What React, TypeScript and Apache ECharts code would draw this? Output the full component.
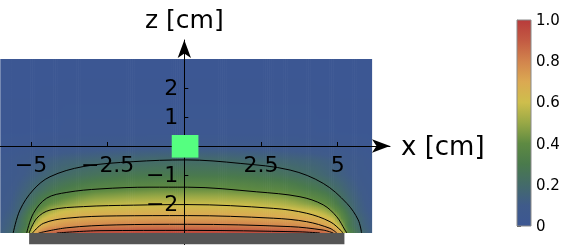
import React, { useEffect, useRef } from "react";
import * as echarts from "echarts";

// ---------- tick labels ----------
const xTickValues = [-5, -2.5, 2.5, 5];
const zTickValues = [-2, -1, 1, 2];
const colorTickValues = [0, 0.2, 0.4, 0.6, 0.8, 1.0];

// ---------- ranges ----------
const fieldXRange = [-6, 6.1];
const fieldZRange = [-3, 3];
const xAxisRange = [-6, 6.706];
const zAxisRange = [-3.4, 3.655];

// ---------- DarkRainbow-like colour scheme (value → colour) ----------
const colorStopValues = [0, 0.1, 0.2, 0.3, 0.4, 0.5, 0.6, 0.7, 0.8, 0.9, 1];
const colorStopHex = ["#3C5793", "#3F5B8A", "#446B6A", "#4A7A4C", "#5E8A42", "#98A846", "#CEBE4C", "#DBA952", "#D2844D", "#C35B43", "#B83B3B"];

// ---------- field samples ----------
const fieldCenterX = 0.1;
const fieldDx = [0, 1, 2, 3, 3.5, 4, 4.25, 4.5, 4.75, 5, 5.25, 5.5, 5.75, 6.1];
const fieldZ = [3, 0.5, 0, -0.5, -1, -1.5, -2, -2.25, -2.5, -2.75, -3];
const rowZp30 = [0, 0, 0, 0, 0, 0, 0, 0, 0, 0, 0, 0, 0, 0];
const rowZp05 = [0.02, 0.02, 0.02, 0.02, 0.02, 0.02, 0.015, 0.015, 0.015, 0.01, 0.01, 0.01, 0.01, 0.01];
const rowZ000 = [0.08, 0.08, 0.075, 0.07, 0.065, 0.06, 0.055, 0.05, 0.045, 0.04, 0.035, 0.03, 0.025, 0.02];
const rowZm05 = [0.205, 0.2, 0.185, 0.17, 0.16, 0.15, 0.14, 0.13, 0.12, 0.11, 0.09, 0.08, 0.06, 0.05];
const rowZm10 = [0.29, 0.29, 0.28, 0.25, 0.23, 0.205, 0.19, 0.17, 0.15, 0.13, 0.11, 0.09, 0.07, 0.06];
const rowZm15 = [0.42, 0.42, 0.4, 0.38, 0.35, 0.31, 0.29, 0.26, 0.22, 0.19, 0.15, 0.12, 0.09, 0.07];
const rowZm20 = [0.59, 0.59, 0.58, 0.55, 0.52, 0.47, 0.44, 0.41, 0.35, 0.27, 0.2, 0.15, 0.11, 0.08];
const rowZm225 = [0.66, 0.66, 0.65, 0.64, 0.63, 0.6, 0.57, 0.52, 0.44, 0.36, 0.25, 0.16, 0.12, 0.09];
const rowZm25 = [0.73, 0.73, 0.72, 0.71, 0.7, 0.68, 0.67, 0.64, 0.58, 0.42, 0.3, 0.2, 0.14, 0.1];
const rowZm275 = [0.82, 0.82, 0.81, 0.79, 0.78, 0.76, 0.74, 0.72, 0.67, 0.55, 0.3, 0.22, 0.15, 0.11];
const rowZm30 = [0.96, 0.96, 0.95, 0.94, 0.93, 0.91, 0.9, 0.86, 0.81, 0.69, 0.37, 0.26, 0.18, 0.12];
const fieldRows = [rowZp30, rowZp05, rowZ000, rowZm05, rowZm10, rowZm15, rowZm20, rowZm225, rowZm25, rowZm275, rowZm30];

// ---------- contour lines (x, z) ----------
const contour02 = [[-5.58, -3], [-5.36, -2.21], [-4.93, -1.52], [-4.38, -1.06], [-3.3, -0.71], [-1.67, -0.54], [0.05, -0.48], [1.82, -0.6], [3.45, -0.83], [4.53, -1.29], [5.3, -1.98], [5.67, -2.55], [5.78, -3]];
const contour04 = [[-5.14, -3], [-4.92, -2.32], [-4.49, -1.8], [-3.83, -1.6], [-2.75, -1.48], [-1.12, -1.42], [0.1, -1.42], [2.36, -1.58], [3.77, -1.75], [4.53, -2.03], [4.97, -2.44], [5.24, -2.9], [5.3, -3]];
const contour06 = [[-5.06, -3], [-4.81, -2.49], [-4.38, -2.21], [-3.29, -2.09], [-1.66, -2.04], [0.1, -2.02], [2.9, -2.15], [3.99, -2.32], [4.75, -2.61], [5.13, -2.94], [5.16, -3]];
const contour07 = [[-4.95, -3], [-4.6, -2.67], [-3.83, -2.49], [-2.2, -2.41], [0.1, -2.4], [2.9, -2.49], [3.99, -2.61], [4.75, -2.84], [4.97, -3]];
const contour08 = [[-4.75, -3], [-3.83, -2.82], [-2.2, -2.72], [0.1, -2.7], [3.45, -2.78], [4.53, -2.9], [4.86, -3]];
const contour09 = [[-4.16, -3], [-2.75, -2.92], [0.1, -2.91], [3.77, -2.96], [4.42, -3]];
const contours = [contour02, contour04, contour06, contour07, contour08, contour09];

// ---------- objects ----------
const sensorBox = [-0.41, -0.4, 0.46, 0.38]; // x0, z0, x1, z1
const magnetBox = [-5.06, -3.39, 5.22, -3.0];

const FONT = "DejaVu Sans";

// plot frame in pixels
const PLOT_LEFT = 0.3;
const PLOT_RIGHT = 390;
const PLOT_TOP = 40;
const PLOT_BOTTOM = 244.6;

function hexToRgb(h: string) {
  return [parseInt(h.slice(1, 3), 16), parseInt(h.slice(3, 5), 16), parseInt(h.slice(5, 7), 16)];
}
const stopRgb = colorStopHex.map(hexToRgb);

function colorAt(v: number) {
  const x = Math.max(0, Math.min(1, v));
  let i = 0;
  while (i < colorStopValues.length - 2 && x > colorStopValues[i + 1]) i++;
  const t = (x - colorStopValues[i]) / (colorStopValues[i + 1] - colorStopValues[i]);
  const a = stopRgb[i], b = stopRgb[i + 1];
  const r = Math.round(a[0] + (b[0] - a[0]) * t);
  const g = Math.round(a[1] + (b[1] - a[1]) * t);
  const bl = Math.round(a[2] + (b[2] - a[2]) * t);
  return `rgb(${r},${g},${bl})`;
}

function clampX(x: number) {
  return Math.max(fieldXRange[0], Math.min(fieldXRange[1], x));
}

const fieldCols: { x: number; idx: number }[] = [];
for (let i = fieldDx.length - 1; i >= 1; i--) fieldCols.push({ x: clampX(fieldCenterX - fieldDx[i]), idx: i });
for (let i = 0; i < fieldDx.length; i++) fieldCols.push({ x: clampX(fieldCenterX + fieldDx[i]), idx: i });
const fieldCells: number[][] = [];
for (let k = 0; k < fieldCols.length - 1; k++) {
  fieldCells.push([fieldCols[k].x, fieldCols[k + 1].x, fieldCols[k].idx, fieldCols[k + 1].idx]);
}

function fmt(v: number) {
  return String(v).replace("-", "\u2212");
}

export default function App() {
  const ref = useRef<HTMLDivElement>(null);
  useEffect(() => {
    if (!ref.current) return;
    const chart = echarts.init(ref.current, undefined, { renderer: "svg" });

    const fieldRender = (params: any, api: any) => {
      const xa = api.value(0), xb = api.value(1), ia = api.value(2), ib = api.value(3);
      const pTop = api.coord([xa, fieldZRange[1]]);
      const pBot = api.coord([xb, fieldZRange[0]]);
      const x0 = pTop[0], x1 = pBot[0], y0 = pTop[1], y1 = pBot[1];
      const n = Math.max(1, Math.round((x1 - x0) / 2));
      const w = (x1 - x0) / n;
      const span = fieldZRange[1] - fieldZRange[0];
      const children: any[] = [];
      for (let s = 0; s < n; s++) {
        const t = (s + 0.5) / n;
        const col = fieldRows.map((r) => r[ia] * (1 - t) + r[ib] * t);
        const stops: any[] = [];
        for (let k = 0; k < fieldZ.length - 1; k++) {
          const za = fieldZ[k], zb = fieldZ[k + 1];
          const m = Math.max(1, Math.ceil((za - zb) / 0.05));
          for (let j = 0; j < m; j++) {
            const u = j / m;
            const z = za + (zb - za) * u;
            stops.push({ offset: (fieldZRange[1] - z) / span, color: colorAt(col[k] + (col[k + 1] - col[k]) * u) });
          }
        }
        stops.push({ offset: 1, color: colorAt(col[col.length - 1]) });
        children.push({
          type: "rect",
          shape: { x: x0 + s * w, y: y0, width: w + 0.7, height: y1 - y0 },
          style: { fill: { type: "linear", x: 0, y: 0, x2: 0, y2: 1, colorStops: stops } },
        });
      }
      return { type: "group", children };
    };

    const boxRender = (color: string) => (params: any, api: any) => {
      const p0 = api.coord([api.value(0), api.value(3)]);
      const p1 = api.coord([api.value(2), api.value(1)]);
      return {
        type: "rect",
        shape: { x: p0[0], y: p0[1], width: p1[0] - p0[0], height: p1[1] - p0[1] },
        style: { fill: color },
      };
    };

    const colorbarRender = (params: any, api: any) => {
      const p0 = api.coord([api.value(0), api.value(3)]);
      const p1 = api.coord([api.value(2), api.value(1)]);
      const stops = colorStopHex
        .map((c, i) => ({ offset: 1 - colorStopValues[i], color: c }))
        .reverse();
      return {
        type: "rect",
        shape: { x: p0[0], y: p0[1], width: p1[0] - p0[0], height: p1[1] - p0[1] },
        style: { fill: { type: "linear", x: 0, y: 0, x2: 0, y2: 1, colorStops: stops }, stroke: "#8a8a8a", lineWidth: 1 },
      };
    };

    const zeroX = PLOT_LEFT + ((0 - xAxisRange[0]) / (xAxisRange[1] - xAxisRange[0])) * (PLOT_RIGHT - PLOT_LEFT);
    const zeroZ = PLOT_TOP + ((zAxisRange[1] - 0) / (zAxisRange[1] - zAxisRange[0])) * (PLOT_BOTTOM - PLOT_TOP);

    const arrowLine = { show: true, onZero: false, symbol: ["none", "arrow"], symbolSize: [10, 18], lineStyle: { color: "#000", width: 1 } };
    const labelStyle = { fontSize: 22, color: "#000", fontFamily: FONT, formatter: fmt };

    const option: any = {
      animation: false,
      grid: [
        { left: PLOT_LEFT, top: PLOT_TOP, width: PLOT_RIGHT - PLOT_LEFT, height: PLOT_BOTTOM - PLOT_TOP, outerBoundsMode: "none", containLabel: false },
        { left: PLOT_LEFT, top: PLOT_TOP, width: PLOT_RIGHT - PLOT_LEFT, height: zeroZ - PLOT_TOP, outerBoundsMode: "none", containLabel: false },
        { left: zeroX, top: PLOT_TOP, width: PLOT_RIGHT - zeroX, height: PLOT_BOTTOM - PLOT_TOP, outerBoundsMode: "none", containLabel: false },
        { left: 517, top: 20, width: 14, height: 206, outerBoundsMode: "none", containLabel: false },
      ],
      xAxis: [
        { gridIndex: 0, type: "value", min: xAxisRange[0], max: xAxisRange[1], show: false },
        {
          gridIndex: 1,
          type: "value",
          position: "bottom",
          min: xAxisRange[0],
          max: xAxisRange[1],
          z: 5,
          axisLine: arrowLine,
          axisTick: { show: true, customValues: xTickValues, inside: true, length: 4, lineStyle: { color: "#000" } },
          axisLabel: { ...labelStyle, customValues: xTickValues, margin: 8 },
          splitLine: { show: false },
          name: "x [cm]",
          nameLocation: "end",
          nameGap: 11,
          nameTextStyle: { fontSize: 26, color: "#000", fontFamily: FONT },
        },
        { gridIndex: 2, type: "value", min: 0, max: xAxisRange[1], show: false },
        { gridIndex: 3, type: "value", min: 0, max: 1, show: false },
      ],
      yAxis: [
        { gridIndex: 0, type: "value", min: zAxisRange[0], max: zAxisRange[1], show: false },
        { gridIndex: 1, type: "value", min: 0, max: zAxisRange[1], show: false },
        {
          gridIndex: 2,
          type: "value",
          position: "left",
          min: zAxisRange[0],
          max: zAxisRange[1],
          z: 5,
          axisLine: arrowLine,
          axisTick: { show: true, customValues: zTickValues, inside: true, length: 4, lineStyle: { color: "#000" } },
          axisLabel: { ...labelStyle, customValues: zTickValues, margin: 6 },
          splitLine: { show: false },
          name: "z [cm]",
          nameLocation: "end",
          nameGap: 8,
          nameTextStyle: { fontSize: 25, color: "#000", fontFamily: FONT },
        },
        {
          gridIndex: 3,
          type: "value",
          position: "right",
          min: 0,
          max: 1,
          interval: 0.2,
          axisLine: { show: true, lineStyle: { color: "#b0b0b0", width: 1 } },
          axisTick: { show: true, length: 4, lineStyle: { color: "#555" } },
          minorTick: { show: true, splitNumber: 4, length: 4, lineStyle: { color: "#c4c4c4" } },
          axisLabel: {
            formatter: (v: number) => (v === 0 ? "0" : v.toFixed(1)),
            fontSize: 15,
            color: "#000",
            fontFamily: FONT,
            margin: 5,
          },
          splitLine: { show: false },
          minorSplitLine: { show: false },
        },
      ],
      series: [
        { type: "custom", xAxisIndex: 0, yAxisIndex: 0, z: 1, silent: true, renderItem: fieldRender, data: fieldCells },
        ...contours.map((c) => ({
          type: "line",
          xAxisIndex: 0,
          yAxisIndex: 0,
          z: 2,
          silent: true,
          data: c,
          showSymbol: false,
          smooth: 0.35,
          lineStyle: { color: "#000", width: 1 },
        })),
        { type: "custom", xAxisIndex: 0, yAxisIndex: 0, z: 10, silent: true, renderItem: boxRender("#55FF80"), data: [sensorBox] },
        { type: "custom", xAxisIndex: 0, yAxisIndex: 0, z: 10, silent: true, renderItem: boxRender("#555555"), data: [magnetBox] },
        { type: "custom", xAxisIndex: 3, yAxisIndex: 3, z: 1, silent: true, renderItem: colorbarRender, data: [[0, 0, 1, 1]] },
      ],
    };
    chart.setOption(option);
    return () => chart.dispose();
  }, []);
  return <div ref={ref} style={{ position: "fixed", left: 0, top: 0, width: 570, height: 247 }} />;
}
